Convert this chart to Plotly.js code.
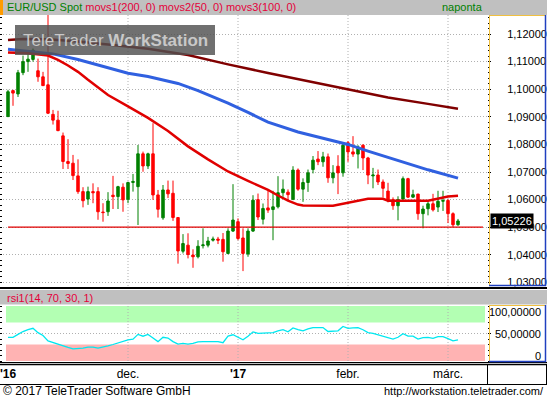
<!DOCTYPE html>
<html><head><meta charset="utf-8">
<script src="https://cdn.plot.ly/plotly-3.0.1.min.js"></script>
<style>html,body{margin:0;padding:0;background:#fff;overflow:hidden}#chart{width:547px;height:398px}</style>
</head><body><div id="chart"></div>
<script>
// ---------- data ----------
const firstDay = '2016-10-28';
const lastDay = '2017-03-03';
const openP = [1.0901,1.0995,1.0983,1.1060,1.1100,1.1108,1.1067,1.1045,1.1016,1.0909,
1.0888,1.0831,1.0738,1.0732,1.0686,1.0629,1.0602,1.0629,1.0629,1.0555,
1.0556,1.0616,1.0611,1.0645,1.0601,1.0662,1.0647,1.0766,1.0722,1.0766,
1.0617,1.0534,1.0635,1.0623,1.0535,1.0413,1.0435,1.0399,1.0393,1.0433,
1.0435,1.0453,1.0457,1.0456,1.0405,1.0486,1.0520,1.0461,1.0403,1.0486,
1.0600,1.0529,1.0570,1.0564,1.0574,1.0625,1.0627,1.0601,1.0707,1.0638,
1.0662,1.0709,1.0747,1.0737,1.0755,1.0679,1.0721,1.0697,1.0806,1.0773,
1.0765,1.0797,1.0751,1.0686,1.0689,1.0664,1.0631,1.0600,1.0578,1.0602,
1.0676,1.0609,1.0620,1.0549,1.0567,1.0585,1.0573,1.0594,1.0597,1.0549,1.0509];
const highP = [1.0998,1.0998,1.1070,1.1122,1.1130,1.1148,1.1111,1.1063,1.1300,1.0925,
1.0922,1.0843,1.0819,1.0762,1.0746,1.0645,1.0647,1.0659,1.0645,1.0587,
1.0627,1.0686,1.0650,1.0659,1.0665,1.0693,1.0798,1.0774,1.0770,1.0877,
1.0635,1.0653,1.0669,1.0669,1.0535,1.0475,1.0478,1.0420,1.0453,1.0496,
1.0465,1.0466,1.0465,1.0479,1.0496,1.0656,1.0532,1.0496,1.0496,1.0616,
1.0622,1.0586,1.0632,1.0632,1.0685,1.0673,1.0637,1.0721,1.0713,1.0677,
1.0709,1.0758,1.0776,1.0773,1.0767,1.0725,1.0761,1.0806,1.0812,1.0830,
1.0797,1.0801,1.0755,1.0715,1.0709,1.0673,1.0661,1.0608,1.0612,1.0684,
1.0679,1.0636,1.0621,1.0578,1.0597,1.0621,1.0632,1.0632,1.0602,1.0554,1.0530];
const lowP = [1.0899,1.0940,1.0972,1.1051,1.1063,1.1100,1.1027,1.1012,1.0910,1.0872,
1.0848,1.0711,1.0711,1.0671,1.0621,1.0572,1.0581,1.0587,1.0527,1.0520,
1.0541,1.0566,1.0566,1.0556,1.0587,1.0629,1.0508,1.0701,1.0711,1.0599,
1.0535,1.0527,1.0606,1.0523,1.0368,1.0405,1.0387,1.0353,1.0387,1.0423,
1.0427,1.0448,1.0439,1.0375,1.0402,1.0483,1.0453,1.0341,1.0393,1.0483,
1.0526,1.0510,1.0552,1.0453,1.0568,1.0610,1.0598,1.0598,1.0632,1.0592,
1.0628,1.0695,1.0725,1.0719,1.0661,1.0659,1.0620,1.0683,1.0737,1.0755,
1.0713,1.0707,1.0656,1.0641,1.0653,1.0608,1.0590,1.0563,1.0525,1.0600,
1.0606,1.0607,1.0527,1.0496,1.0543,1.0557,1.0555,1.0559,1.0515,1.0501,1.0505];
const closeP = [1.0991,1.0986,1.1060,1.1100,1.1109,1.1142,1.1045,1.1013,1.0913,1.0888,
1.0850,1.0738,1.0731,1.0687,1.0629,1.0596,1.0629,1.0625,1.0556,1.0553,
1.0595,1.0611,1.0647,1.0599,1.0662,1.0666,1.0766,1.0722,1.0766,1.0617,
1.0565,1.0635,1.0621,1.0535,1.0414,1.0441,1.0401,1.0393,1.0431,1.0436,
1.0450,1.0457,1.0453,1.0411,1.0486,1.0526,1.0459,1.0405,1.0486,1.0598,
1.0537,1.0568,1.0562,1.0574,1.0625,1.0638,1.0618,1.0707,1.0638,1.0662,
1.0697,1.0743,1.0737,1.0755,1.0679,1.0697,1.0697,1.0797,1.0773,1.0765,
1.0791,1.0751,1.0689,1.0689,1.0664,1.0641,1.0598,1.0578,1.0600,1.0676,
1.0609,1.0618,1.0549,1.0566,1.0585,1.0563,1.0594,1.0597,1.0549,1.0509,1.05226];

// moving averages, read at selected trading-day indices
const ma200Idx = [0,3,8,14,20,28,36,44,52,60,68,76,84,90];
const ma200Val = [1.1178,1.1182,1.1181,1.1173,1.1162,1.1147,1.1124,1.1090,1.1059,1.1030,1.1001,1.0970,1.0947,1.0929];
const ma50Idx = [0,4,8,10,12,14,16,18,20,24,28,32,36,40,44,48,52,54,56,58,59,65,68,70,72,75,76,84,86,88,90];
const ma50Val = [1.1133,1.1130,1.1122,1.1106,1.1086,1.1063,1.1034,1.1007,1.0979,1.0938,1.0896,1.0849,1.0793,1.0746,1.0702,1.0668,1.0635,1.0615,1.0596,1.0582,1.0579,1.0578,1.0588,1.0597,1.0603,1.0603,1.0596,1.0596,1.0604,1.0611,1.0614];
const ma100Idx = [0,9,14,18,24,28,34,38,44,48,52,58,63,68,72,78,84,90];
const ma100Val = [1.1145,1.1128,1.1108,1.1088,1.1058,1.1046,1.1021,1.0995,1.0950,1.0916,1.0881,1.0845,1.0822,1.0800,1.0776,1.0742,1.0708,1.0678];

const rsiValues = [43.1,43,48.4,53.6,56.9,59.5,51.6,46.4,36.6,34,
31.3,27.4,24.8,22.1,22.1,23.4,25.4,25.4,23.4,24.8,
27.4,30,33.3,35.2,38.5,39.8,48.4,45.1,48.4,41.8,
35.2,43.1,41.8,35.2,30.7,32,30.7,32,34.6,35.2,
35.2,35.2,35.2,33.3,45.1,47.7,43.8,38.5,45.1,53,
50.3,50.3,50.3,51.6,54.9,56.9,53,60.2,56.9,54.9,
58.2,60.8,60.8,60.8,53.6,54.9,54.9,62.8,59.5,60.2,
60.8,56.9,51.6,50.3,47.7,45.1,41.8,39.8,43.1,49.7,
45.1,45.1,39.8,42.5,43.1,41.1,44.4,44.4,40.5,36.6,38.5];

const monthStartDates = ['2016-12-01','2017-01-02','2017-02-01','2017-03-01'];
const axisLabelDates = ['2016-10-28','2016-12-01','2017-01-02','2017-02-01','2017-03-01'];
const axisLabels = ["<b>'16</b>", 'dec.', "<b>'17</b>", 'febr.', 'márc.'];
const rsiTickVals = [100, 50, 0];
const rsiTickLabels = ['100,00000', '50,00000', '0'];
const overbought = 70, oversold = 30;
const markerLevel = 1.05;
const titleMain = 'EUR/USD Spot';
const titleStudies = 'movs1(200, 0) movs2(50, 0) movs3(100, 0)';
const titleRsi = 'rsi1(14, 70, 30, 1)';

// ---------- helpers ----------
function buildTradingDays(a, b) {
  const out = []; const d = new Date(a + 'T00:00:00Z'); const end = new Date(b + 'T00:00:00Z');
  while (d <= end) { const wd = d.getUTCDay(); if (wd !== 0 && wd !== 6) out.push(d.toISOString().slice(0, 10)); d.setUTCDate(d.getUTCDate() + 1); }
  return out;
}
const days = buildTradingDays(firstDay, lastDay);
const W = 547, H = 398;
const X = px => px / W;
const Y = py => 1 - py / H;
const FONT = 'Liberation Sans, Arial, sans-serif';
const xDom = [X(3), X(487)];
const xRange = [-1, 95.8];

const traces = [
  { type: 'candlestick', x: days, open: openP, high: highP, low: lowP, close: closeP,
    xaxis: 'x', yaxis: 'y', whiskerwidth: 0, hoverinfo: 'skip',
    increasing: { line: { color: '#008000', width: 1 }, fillcolor: '#008000' },
    decreasing: { line: { color: '#ff0000', width: 1 }, fillcolor: '#ff0000' } },
  { type: 'scatter', mode: 'lines', x: ma200Idx.map(i => days[i]), y: ma200Val, xaxis: 'x', yaxis: 'y',
    line: { color: '#800000', width: 2.5 }, hoverinfo: 'skip' },
  { type: 'scatter', mode: 'lines', x: ma100Idx.map(i => days[i]), y: ma100Val, xaxis: 'x', yaxis: 'y',
    line: { color: '#3060e0', width: 3 }, hoverinfo: 'skip' },
  { type: 'scatter', mode: 'lines', x: ma50Idx.map(i => days[i]), y: ma50Val, xaxis: 'x', yaxis: 'y',
    line: { color: '#e00000', width: 2.5 }, hoverinfo: 'skip' },
  { type: 'scatter', mode: 'lines', x: days, y: rsiValues, xaxis: 'x2', yaxis: 'y2',
    line: { color: '#00e8f0', width: 1.3 }, hoverinfo: 'skip' }
];

const shapes = [];
const line = (x0, y0, x1, y1, color, width) => shapes.push({ type: 'line', xref: 'paper', yref: 'paper', x0: X(x0), x1: X(x1), y0: Y(y0), y1: Y(y1), line: { color, width } });
const rect = (x0, y0, x1, y1, fill) => shapes.push({ type: 'rect', xref: 'paper', yref: 'paper', x0: X(x0), x1: X(x1), y0: Y(y1), y1: Y(y0), fillcolor: fill, line: { width: 0 } });

// header bars
rect(0, 0, 547, 15, '#c0c0c0');
rect(0, 0, 3, 15, '#ff9c00');
rect(0, 290, 547, 304.5, '#c0c0c0');
// rsi bands
shapes.push({ type: 'rect', xref: 'x2 domain', yref: 'y2', x0: 3 / 484, x1: 482 / 484, y0: overbought, y1: 100, fillcolor: '#b3ffb3', line: { width: 0 }, layer: 'below' });
shapes.push({ type: 'rect', xref: 'x2 domain', yref: 'y2', x0: 3 / 484, x1: 482 / 484, y0: 0, y1: oversold, fillcolor: '#ffb3b3', line: { width: 0 }, layer: 'below' });
// vertical month grid lines
monthStartDates.forEach(d => {
  shapes.push({ type: 'line', xref: 'x', yref: 'y domain', x0: d, x1: d, y0: 0, y1: 1, line: { color: '#b0b0b0', width: 1, dash: '1px,2px' }, layer: 'below' });
  shapes.push({ type: 'line', xref: 'x2', yref: 'y2 domain', x0: d, x1: d, y0: 0, y1: 1, line: { color: '#b0b0b0', width: 1, dash: '1px,2px' }, layer: 'below' });
});
// horizontal marker line
shapes.push({ type: 'line', xref: 'x domain', yref: 'y', x0: 5 / 484, x1: 480 / 484, y0: markerLevel, y1: markerLevel, line: { color: '#e00000', width: 1.3 } });
// panel separators
line(0, 288, 547, 288, '#000', 2);
line(0, 362.5, 547, 362.5, '#000', 1);
line(0, 364.5, 547, 364.5, '#000', 1.5);
line(0, 384.5, 547, 384.5, '#000', 1);
line(487.5, 364, 487.5, 385, '#000', 1);
line(546.5, 364, 546.5, 385, '#000', 1);
// right axis boxes
[[15, 285.5], [305, 361.5]].forEach(([t, b]) => {
  line(489.5, t, 489.5, b, '#f0c040', 1);
  line(489, t + 0.5, 545, t + 0.5, '#f0c040', 1);
  line(545.5, t, 545.5, b + 0.5, '#2040c0', 1.5);
  line(489, b, 546, b, '#2040c0', 1.5);
});
// watermark box
shapes.push({ type: 'rect', xref: 'paper', yref: 'paper', x0: X(15), x1: X(215), y0: Y(55), y1: Y(25), fillcolor: 'rgba(80,80,80,0.82)', line: { width: 0 }, layer: 'above' });

const ann = (x, y, text, opts) => Object.assign({ xref: 'paper', yref: 'paper', x: X(x), y: Y(y), text, showarrow: false, xanchor: 'left', yanchor: 'middle', font: { family: FONT, size: 11, color: '#000' } }, opts || {});
const annotations = [
  ann(5, 7.5, `<span style="color:#008000">${titleMain}</span> <span style="color:#e4003a">${titleStudies}</span>`),
  ann(485, 7.5, 'naponta', { xanchor: 'right', font: { family: FONT, size: 11, color: '#008000' } }),
  ann(5, 297.5, titleRsi, { font: { family: FONT, size: 11, color: '#e4003a' } }),
  ann(116, 40, 'TeleTrader <b>WorkStation</b>', { xanchor: 'center', font: { family: FONT, size: 17, color: '#c8c8c8' } }),
  ann(1, 391, '© 2017 TeleTrader Software GmbH', { font: { family: FONT, size: 12, color: '#000' } }),
  ann(546, 391, 'http://workstation.teletrader.com/', { xanchor: 'right', font: { family: FONT, size: 11, color: '#000' } }),
  { xref: 'paper', yref: 'y', x: X(490), y: closeP[closeP.length - 1], xanchor: 'left', yanchor: 'middle', showarrow: false,
    text: closeP[closeP.length - 1].toFixed(5).replace('.', ','), bgcolor: '#000', borderpad: 1,
    font: { family: FONT, size: 11, color: '#fff' } }
];
rsiTickVals.forEach((v, k) => annotations.push({ xref: 'paper', yref: 'y2', x: X(543), y: v, xanchor: 'right', yanchor: 'middle', showarrow: false,
  yshift: v === 100 ? -6 : (v === 0 ? 5 : 0), text: rsiTickLabels[k], font: { family: FONT, size: 11, color: '#000' } }));

const layout = {
  width: W, height: H, margin: { l: 0, r: 0, t: 0, b: 0 }, paper_bgcolor: '#fff', plot_bgcolor: '#fff',
  showlegend: false, separators: ', ', font: { family: FONT },
  xaxis: { type: 'category', domain: xDom, range: xRange, anchor: 'y', showgrid: false, showticklabels: false, ticks: '', zeroline: false, fixedrange: true, rangeslider: { visible: false } },
  yaxis: { domain: [Y(286), Y(15)], range: [1.0287, 1.1269], side: 'right', anchor: 'x',
    tickmode: 'linear', tick0: 1.0, dtick: 0.01, tickformat: '.5f',
    showgrid: true, gridcolor: '#b0b0b0', griddash: '1px,2px', gridwidth: 1,
    ticks: 'outside', ticklen: 3, tickcolor: '#000', tickwidth: 1, mirror: 'ticks', showline: false,
    minor: { tickmode: 'linear', tick0: 1.0, dtick: 0.002, ticks: 'outside', ticklen: 2, tickcolor: '#000', showgrid: false },
    tickfont: { family: FONT, size: 11, color: '#000' }, ticklabelstandoff: 14, zeroline: false, fixedrange: true },
  xaxis2: { type: 'category', domain: xDom, range: xRange, anchor: 'y2', tickmode: 'array', tickvals: axisLabelDates, ticktext: axisLabels,
    ticks: '', showgrid: false, zeroline: false, tickfont: { family: FONT, size: 12, color: '#000' }, ticklabelstandoff: 4, fixedrange: true },
  yaxis2: { domain: [Y(361), Y(306)], range: [0, 100], side: 'right', anchor: 'x2', tickmode: 'array', tickvals: [50],
    showgrid: true, gridcolor: '#b0b0b0', griddash: '1px,2px', showticklabels: false, ticks: 'outside', ticklen: 3, tickcolor: '#000',
    mirror: 'ticks', minor: { tickmode: 'linear', tick0: 0, dtick: 10, ticks: 'outside', ticklen: 2, tickcolor: '#000', showgrid: false },
    zeroline: false, fixedrange: true },
  shapes, annotations
};
Plotly.newPlot('chart', traces, layout, { staticPlot: true, displayModeBar: false });
</script></body></html>
